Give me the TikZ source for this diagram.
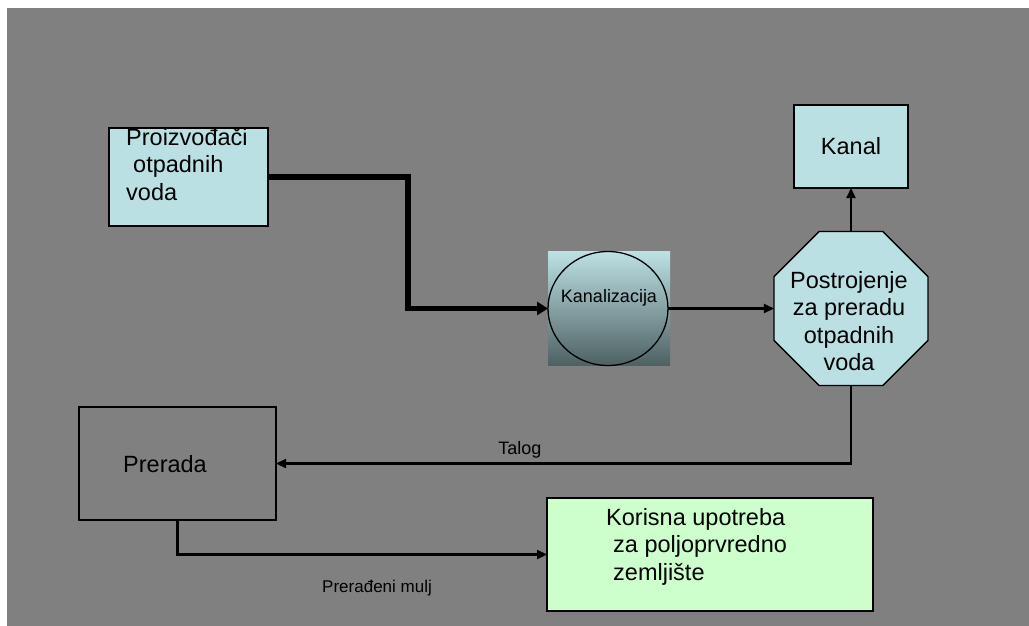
\documentclass[tikz,border=0pt]{standalone}
\usepackage{fontspec}
\setmainfont{Liberation Sans}
\usetikzlibrary{positioning,arrows.meta,shapes.geometric}
\definecolor{bggrey}{HTML}{808080}
\definecolor{lightcyan}{HTML}{BBE0E3}
\definecolor{palegreen}{HTML}{CCFFCC}
\definecolor{shadetop}{HTML}{BDE1E4}
\definecolor{shadebot}{HTML}{4E6163}

\begin{document}
\begin{tikzpicture}[x=1pt,y=-1pt,
box/.style={draw,line width=1.3pt,inner sep=0pt,outer sep=0pt},
txt/.style={inner sep=0pt,align=left,font=\fontsize{23.5}{27.5}\selectfont},
small/.style={inner sep=0pt,font=\fontsize{18}{21}\selectfont},
arrow/.style={-{Triangle[length=10pt,width=9pt]},line width=2.2pt},
bigarrow/.style={-{Triangle[length=11pt,width=13pt]},line width=5.5pt}]
\useasboundingbox (0,0) rectangle (1029,626);
\fill[bggrey] (7,8) rectangle (1029,626);
% upper row
\node[box,fill=lightcyan,minimum width=159pt,minimum height=98pt] (proiz) at (188.5,177) {};
\node[txt,anchor=north west] (proiztext) at (126,128) {Proizvođači\\\hspace*{7pt}otpadnih\\voda};
\node[minimum width=122pt,minimum height=114pt,inner sep=0pt,top color=shadetop,bottom color=shadebot] (kanbox) at (609,308.5) {};
\node[ellipse,draw,line width=1.3pt,minimum width=120pt,minimum height=114pt,inner sep=0pt,outer sep=0pt] (kan) at (608,308.5) {};
\node[small,anchor=base] (kantext) at (609,302) {Kanalizacija};
\node[regular polygon,regular polygon sides=8,draw,line width=1.3pt,fill=lightcyan,minimum size=166.7pt,inner sep=0pt,outer sep=0pt] (post) at (851,308.5) {};
\node[txt,align=center,anchor=north] (posttext) at (849,271) {Postrojenje\\za preradu\\otpadnih\\voda};
\node[box,txt,fill=lightcyan,minimum width=114pt,minimum height=83pt] (kanal) at (851,146.5) {Kanal};
% lower row
\node[box,minimum width=197pt,minimum height=113pt] (prerada) at (177.5,463.5) {};
\node[txt,anchor=base] (preradatext) at (165,472.5) {Prerada};
\node[box,fill=palegreen,minimum width=326pt,minimum height=113pt] (korisna) at (710,554.5) {};
\node[txt,anchor=north west] (korisnatext) at (606,508) {Korisna upotreba\\\hspace*{7pt}za poljoprvredno\\\hspace*{7pt}zemljište};
% connectors
\draw[bigarrow] (proiz.east) -- ++(140,0) |- (kan.west);
\draw[arrow] (kan.east) -- (post.west);
\draw[arrow] (post.north) -- (kanal.south);
\draw[arrow] (post.south) |- (prerada.east) node[small,pos=0.788,above=4.5pt] {Talog};
\draw[arrow] (prerada.south) |- (korisna.west) node[small,font=\fontsize{17}{20}\selectfont,pos=0.77,below=25pt] {Prerađeni mulj};
\end{tikzpicture}
\end{document}
